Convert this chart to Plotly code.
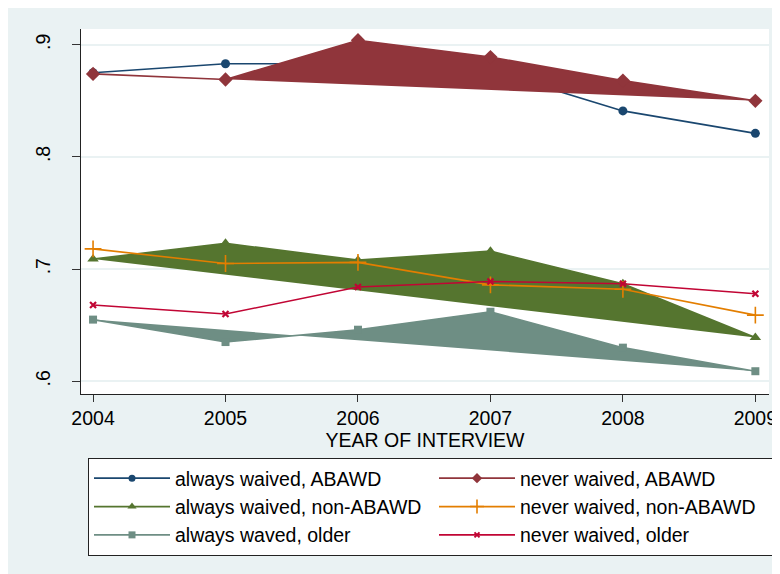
import plotly.graph_objects as go

years = [2004, 2005, 2006, 2007, 2008, 2009]
always_abawd = [0.875, 0.883, 0.883, 0.877, 0.841, 0.821]
never_abawd = [0.874, 0.869, 0.904, 0.889, 0.868, 0.850]
always_nonabawd = [0.709, 0.723, 0.708, 0.716, 0.687, 0.639]
never_nonabawd = [0.718, 0.705, 0.706, 0.686, 0.682, 0.659]
always_older = [0.655, 0.635, 0.646, 0.662, 0.630, 0.609]
never_older = [0.668, 0.660, 0.684, 0.689, 0.687, 0.678]

names = ["always waived, ABAWD", "never waived, ABAWD",
         "always waived, non-ABAWD", "never waived, non-ABAWD",
         "always waved, older", "never waived, older"]
y_ticks = [0.6, 0.7, 0.8, 0.9]
y_tick_labels = [".6", ".7", ".8", ".9"]

FONT = "Liberation Sans, Arial, Helvetica, sans-serif"
BG = "#EAF2F3"

# (values, colour, plot marker, legend marker, filled)
series = [
    (always_abawd, "#1A476F", dict(symbol="circle", size=9), dict(symbol="circle", size=7), False),
    (never_abawd, "#90353B", dict(symbol="diamond", size=11), dict(symbol="diamond", size=8), True),
    (always_nonabawd, "#55752F", dict(symbol="triangle-up", size=10), dict(symbol="triangle-up", size=8), True),
    (never_nonabawd, "#E37E00", dict(symbol="cross-thin", size=12, line=dict(width=1.6, color="#E37E00")),
     dict(symbol="cross-thin", size=10, line=dict(width=1.6, color="#E37E00")), False),
    (always_older, "#6E8E84", dict(symbol="square", size=8), dict(symbol="square", size=7), True),
    (never_older, "#C10534", dict(symbol="x-thin", size=6, line=dict(width=2.2, color="#C10534")),
     dict(symbol="x-thin", size=5, line=dict(width=2, color="#C10534")), False),
]

fig = go.Figure()
for (vals, col, mk, lmk, filled), name in zip(series, names):
    if filled:
        fig.add_trace(go.Scatter(x=years, y=vals, mode="lines", fill="toself",
                                 fillcolor=col, line=dict(width=0, color=col),
                                 showlegend=False, hoverinfo="skip"))
    fig.add_trace(go.Scatter(x=years, y=vals, mode="lines+markers", name=name,
                             line=dict(color=col, width=1.6), legendgroup=name,
                             marker=dict(color=col, **mk), showlegend=False))
# legend entries (line + smaller marker, as in the original)
for (vals, col, mk, lmk, filled), name in zip(series, names):
    fig.add_trace(go.Scatter(x=[None], y=[None], mode="lines+markers", name=name,
                             legendgroup=name, line=dict(color=col, width=1.8),
                             marker=dict(color=col, **lmk), hoverinfo="skip"))

W, H = 780, 574
ml, mr, mt, mb = 73, 19, 21, 188

fig.update_layout(
    width=W, height=H,
    margin=dict(l=ml, r=mr, t=mt, b=mb, pad=0),
    paper_bgcolor=BG, plot_bgcolor="white",
    font=dict(family=FONT, size=19.5, color="black"),
    xaxis=dict(range=[2003.909, 2009.103], tickvals=years, ticks="outside",
               ticklen=7, tickcolor="#333", tickwidth=1, showgrid=False,
               showline=True, linecolor="#222", linewidth=1, zeroline=False,
               tickfont=dict(size=19.5),
               title=dict(text="YEAR OF INTERVIEW", font=dict(size=19.5), standoff=0)),
    yaxis=dict(range=[0.5887, 0.914], tickvals=y_ticks, ticktext=y_tick_labels,
               tickangle=-90, ticks="outside", ticklen=8, tickcolor="#333",
               showgrid=True, gridcolor=BG, gridwidth=2, showline=True,
               linecolor="#222", linewidth=1, zeroline=False,
               ticklabelstandoff=14, tickfont=dict(size=19.5)),
    legend=dict(orientation="h", xref="container", yref="container",
                x=80 / W, y=1 - 450 / H,
                xanchor="left", yanchor="top",
                bgcolor="white", bordercolor="#222", borderwidth=1,
                entrywidth=254, entrywidthmode="pixels", itemwidth=76,
                font=dict(size=19.5), traceorder="normal", groupclick="togglegroup"),
)

fig.write_html("out.html")
